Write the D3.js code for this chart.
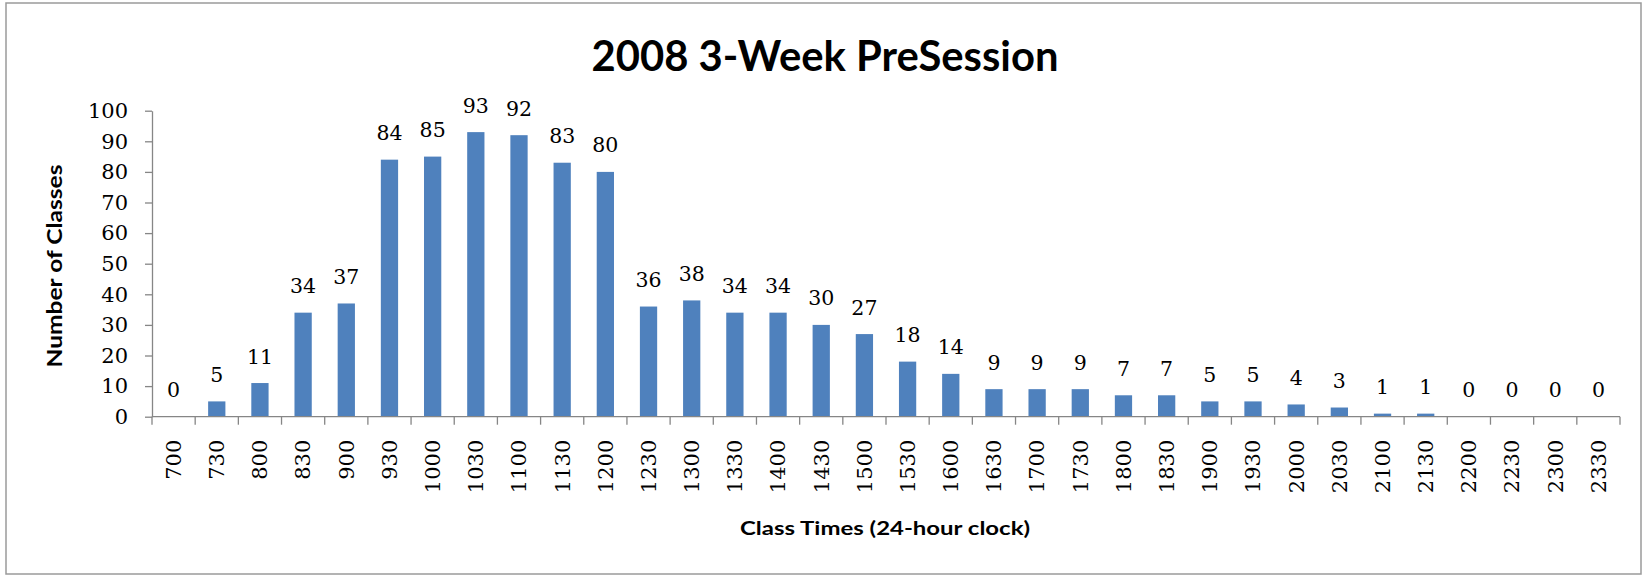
<!DOCTYPE html>
<html>
<head>
<meta charset="utf-8">
<script src="https://cdn.jsdelivr.net/npm/d3@7"></script>
<style>
  html, body { margin: 0; padding: 0; background: #fff; }
  svg { display: block; }
</style>
</head>
<body>
<svg id="chart" width="1644" height="576"></svg>
<script>
// ---- data ----
const categories = ["700","730","800","830","900","930","1000","1030","1100","1130","1200","1230","1300","1330","1400","1430","1500","1530","1600","1630","1700","1730","1800","1830","1900","1930","2000","2030","2100","2130","2200","2230","2300","2330"];
const values = [0,5,11,34,37,84,85,93,92,83,80,36,38,34,34,30,27,18,14,9,9,9,7,7,5,5,4,3,1,1,0,0,0,0];
const yTicks = [0,10,20,30,40,50,60,70,80,90,100];
const titleText = "2008 3-Week PreSession";
const xTitleText = "Class Times (24-hour clock)";
const yTitleText = "Number of Classes";

// ---- layout ----
const svg = d3.select("#chart");
const plotLeft = 152, plotRight = 1620, plotTop = 110.7, plotBottom = 416.7;
const axisColor = "#868686";
const barColor = "#4F81BD";
const numFont = "'DejaVu Serif', serif";
const sansFont = "Lato, 'Open Sans', sans-serif";

// chart border
svg.append("rect")
  .attr("x", 6).attr("y", 3)
  .attr("width", 1635).attr("height", 571)
  .attr("fill", "#fff")
  .attr("stroke", "#9a9a9a").attr("stroke-width", 1.5);

const x = d3.scaleBand().domain(categories).range([plotLeft, plotRight]).paddingInner(0.6).paddingOuter(0.3);
const y = d3.scaleLinear().domain([0, 100]).range([plotBottom, plotTop]);

// bars
svg.append("g").selectAll("rect").data(values).join("rect")
  .attr("x", (d, i) => x(categories[i]))
  .attr("y", d => y(d))
  .attr("width", x.bandwidth())
  .attr("height", d => y(0) - y(d))
  .attr("fill", barColor);

// data labels
svg.append("g").selectAll("text").data(values).join("text")
  .attr("x", (d, i) => x(categories[i]) + x.bandwidth() / 2)
  .attr("y", d => y(d) - 19.5)
  .attr("text-anchor", "middle")
  .attr("font-family", numFont)
  .attr("font-size", 20.5)
  .attr("fill", "#000")
  .text(d => d);

// y axis
const yAxis = svg.append("g")
  .attr("transform", `translate(${plotLeft},0)`)
  .call(d3.axisLeft(y).tickValues(yTicks).tickSize(7).tickPadding(17).tickSizeOuter(0));
yAxis.select(".domain").attr("stroke", axisColor).attr("stroke-width", 1.3);
yAxis.selectAll(".tick line").attr("stroke", axisColor).attr("stroke-width", 1.3);
yAxis.selectAll(".tick text")
  .attr("font-family", numFont).attr("font-size", 21).attr("fill", "#000");

// x axis: labels at band centres, ticks between categories
const xAxis = svg.append("g")
  .attr("transform", `translate(0,${plotBottom})`)
  .call(d3.axisBottom(x).tickSize(0).tickSizeOuter(0));
xAxis.select(".domain").remove();
xAxis.selectAll(".tick text")
  .attr("font-family", numFont).attr("font-size", 21).attr("fill", "#000")
  .attr("text-anchor", "end")
  .attr("transform", "translate(0,23) rotate(-90)")
  .attr("x", 0).attr("y", 0).attr("dy", "0.35em");

svg.append("line")
  .attr("x1", plotLeft).attr("x2", plotRight)
  .attr("y1", plotBottom).attr("y2", plotBottom)
  .attr("stroke", axisColor).attr("stroke-width", 1.3);
const tickPos = d3.range(categories.length + 1).map(i => x.range()[0] + i * x.step());
svg.append("g").selectAll("line").data(tickPos).join("line")
  .attr("x1", d => d).attr("x2", d => d)
  .attr("y1", plotBottom).attr("y2", plotBottom + 8)
  .attr("stroke", axisColor).attr("stroke-width", 1.3);

// titles
svg.append("text")
  .attr("x", 825).attr("y", 71)
  .attr("text-anchor", "middle")
  .attr("font-family", sansFont).attr("font-weight", "bold").attr("font-size", 42)
  .attr("textLength", 467).attr("lengthAdjust", "spacingAndGlyphs")
  .attr("fill", "#000")
  .text(titleText);

svg.append("text")
  .attr("x", 885).attr("y", 535)
  .attr("text-anchor", "middle")
  .attr("font-family", sansFont).attr("font-weight", "bold").attr("font-size", 18)
  .attr("textLength", 290).attr("lengthAdjust", "spacingAndGlyphs")
  .attr("fill", "#000")
  .text(xTitleText);

svg.append("text")
  .attr("transform", "translate(62,266) rotate(-90)")
  .attr("text-anchor", "middle")
  .attr("font-family", sansFont).attr("font-weight", "bold").attr("font-size", 21)
  .attr("textLength", 203).attr("lengthAdjust", "spacingAndGlyphs")
  .attr("fill", "#000")
  .text(yTitleText);
</script>
</body>
</html>
